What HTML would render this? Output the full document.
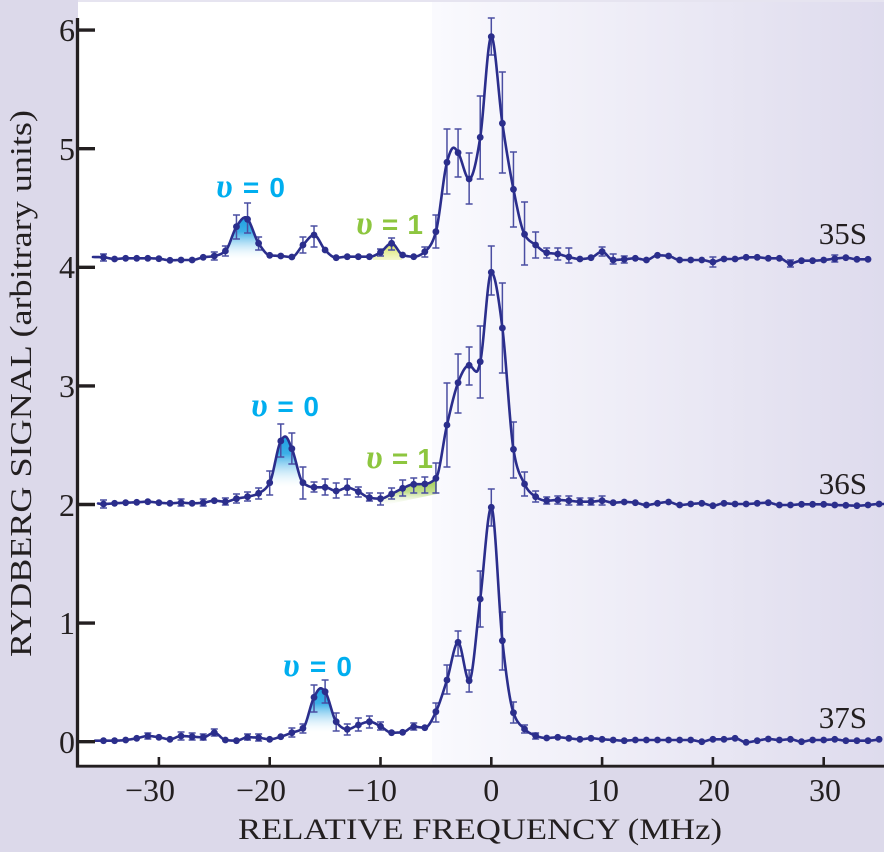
<!DOCTYPE html>
<html><head><meta charset="utf-8">
<style>
html,body{margin:0;padding:0;background:#dcd9ea;width:884px;height:852px;overflow:hidden;}
svg{display:block;}
</style></head>
<body>
<svg id="c" width="884" height="852" viewBox="0 0 884 852" xmlns="http://www.w3.org/2000/svg">
<defs>
<linearGradient id="bgr" gradientUnits="userSpaceOnUse" x1="432" y1="0" x2="884" y2="0">
<stop offset="0" stop-color="#fafafe"/><stop offset="1" stop-color="#dedbed"/>
</linearGradient>
<linearGradient id="cy35" gradientUnits="userSpaceOnUse" x1="0" y1="217" x2="0" y2="259">
<stop offset="0" stop-color="#1c9fe0"/><stop offset="0.35" stop-color="#3dafe7"/><stop offset="1" stop-color="#ffffff" stop-opacity="0.2"/>
</linearGradient>
<linearGradient id="cy36" gradientUnits="userSpaceOnUse" x1="0" y1="436" x2="0" y2="487">
<stop offset="0" stop-color="#1c9fe0"/><stop offset="0.35" stop-color="#3dafe7"/><stop offset="1" stop-color="#ffffff" stop-opacity="0.2"/>
</linearGradient>
<linearGradient id="cy37" gradientUnits="userSpaceOnUse" x1="0" y1="688" x2="0" y2="732">
<stop offset="0" stop-color="#1c9fe0"/><stop offset="0.35" stop-color="#3dafe7"/><stop offset="1" stop-color="#ffffff" stop-opacity="0.2"/>
</linearGradient>
<linearGradient id="yg35" gradientUnits="userSpaceOnUse" x1="0" y1="244" x2="0" y2="260">
<stop offset="0" stop-color="#d4e15c"/><stop offset="1" stop-color="#eef3b8" stop-opacity="0.7"/>
</linearGradient>
<linearGradient id="gr36" gradientUnits="userSpaceOnUse" x1="0" y1="478" x2="0" y2="506">
<stop offset="0" stop-color="#9cc94e"/><stop offset="0.5" stop-color="#c3df8e"/><stop offset="1" stop-color="#ffffff" stop-opacity="0.1"/>
</linearGradient>
</defs>

<!-- backgrounds -->
<rect x="0" y="0" width="884" height="852" fill="#dcd9ea"/>
<rect x="78" y="0" width="806" height="766" fill="#ffffff"/>
<rect x="432" y="0" width="452" height="766" fill="url(#bgr)"/>
<rect x="78" y="0" width="806" height="2" fill="#e6e4f0"/>

<g id="fills"></g>
<g id="errs" stroke="#4a4ea2" stroke-width="1.5" fill="none"></g>
<g id="curves" fill="none" stroke="#2b2e8c" stroke-width="2.6" stroke-linejoin="round" stroke-linecap="round"></g>
<g id="marks" fill="#2b2e8c"></g>

<!-- axes -->
<g stroke="#231f20" fill="none">
<line x1="77.5" y1="18" x2="77.5" y2="767.5" stroke-width="3.3"/>
<line x1="76" y1="766.2" x2="884" y2="766.2" stroke-width="2.8"/>
<g stroke-width="3.4">
<line x1="77" y1="741.7" x2="95" y2="741.7"/>
<line x1="77" y1="623.1" x2="95" y2="623.1"/>
<line x1="77" y1="504.5" x2="95" y2="504.5"/>
<line x1="77" y1="385.9" x2="95" y2="385.9"/>
<line x1="77" y1="267.3" x2="95" y2="267.3"/>
<line x1="77" y1="148.7" x2="95" y2="148.7"/>
<line x1="77" y1="30.1" x2="95" y2="30.1"/>
</g>
<g stroke-width="2.6">
<line x1="158.9" y1="757" x2="158.9" y2="766"/>
<line x1="269.7" y1="757" x2="269.7" y2="766"/>
<line x1="380.5" y1="757" x2="380.5" y2="766"/>
<line x1="491.3" y1="757" x2="491.3" y2="766"/>
<line x1="602.1" y1="757" x2="602.1" y2="766"/>
<line x1="712.9" y1="757" x2="712.9" y2="766"/>
<line x1="823.7" y1="757" x2="823.7" y2="766"/>
</g>
</g>

<!-- tick labels -->
<g font-family="'Liberation Serif', serif" font-size="32" fill="#231f20" text-anchor="end">
<text x="75" y="753">0</text>
<text x="75" y="634">1</text>
<text x="75" y="516">2</text>
<text x="75" y="397">3</text>
<text x="75" y="278">4</text>
<text x="75" y="160">5</text>
<text x="75" y="41">6</text>
</g>
<g font-family="'Liberation Serif', serif" font-size="32" fill="#231f20" text-anchor="end">
<text x="175" y="801">−30</text>
<text x="286" y="801">−20</text>
<text x="397" y="801">−10</text>
<text x="499.3" y="801">0</text>
<text x="619" y="801">10</text>
<text x="730" y="801">20</text>
<text x="841" y="801">30</text>
</g>

<!-- axis titles -->
<text x="238" y="839" font-family="'Liberation Serif', serif" font-size="30" fill="#231f20" textLength="484" lengthAdjust="spacingAndGlyphs">RELATIVE FREQUENCY (MHz)</text>
<text transform="translate(31,657) rotate(-90)" x="0" y="0" font-family="'Liberation Serif', serif" font-size="31" fill="#231f20" textLength="547" lengthAdjust="spacingAndGlyphs">RYDBERG SIGNAL (arbitrary units)</text>

<!-- series labels -->
<g font-family="'Liberation Serif', serif" font-size="31" fill="#231f20" text-anchor="end">
<text x="867" y="244">35S</text>
<text x="867" y="494">36S</text>
<text x="867" y="728">37S</text>
</g>

<!-- peak labels -->
<g font-weight="bold">
<text x="216" y="197" fill="#00aeef" font-size="28" textLength="69" lengthAdjust="spacing"><tspan font-family="'Liberation Serif', serif" font-style="italic" font-size="34">υ</tspan><tspan font-family="'Liberation Sans', sans-serif"> = 0</tspan></text>
<text x="251" y="416" fill="#00aeef" font-size="28" textLength="68" lengthAdjust="spacing"><tspan font-family="'Liberation Serif', serif" font-style="italic" font-size="34">υ</tspan><tspan font-family="'Liberation Sans', sans-serif"> = 0</tspan></text>
<text x="283" y="676" fill="#00aeef" font-size="28" textLength="69" lengthAdjust="spacing"><tspan font-family="'Liberation Serif', serif" font-style="italic" font-size="34">υ</tspan><tspan font-family="'Liberation Sans', sans-serif"> = 0</tspan></text>
<text x="356" y="234" fill="#8dc63f" font-size="28" textLength="67" lengthAdjust="spacing"><tspan font-family="'Liberation Serif', serif" font-style="italic" font-size="34">υ</tspan><tspan font-family="'Liberation Sans', sans-serif"> = 1</tspan></text>
<text x="366" y="468" fill="#8dc63f" font-size="28" textLength="67" lengthAdjust="spacing"><tspan font-family="'Liberation Serif', serif" font-style="italic" font-size="34">υ</tspan><tspan font-family="'Liberation Sans', sans-serif"> = 1</tspan></text>
</g>
</svg>

<script>
(function(){
const NS="http://www.w3.org/2000/svg";
const X=f=>491.3+11.08*f;
function mk(tag,attrs,parent){const e=document.createElementNS(NS,tag);for(const k in attrs)e.setAttribute(k,attrs[k]);parent.appendChild(e);return e;}
function interp(knots){
  knots.sort((a,b)=>a[0]-b[0]);
  const n=knots.length,xs=knots.map(k=>k[0]),ys=knots.map(k=>k[1]);
  const d=[];for(let i=0;i<n-1;i++)d.push((ys[i+1]-ys[i])/(xs[i+1]-xs[i]));
  const m=new Array(n).fill(0);
  for(let i=1;i<n-1;i++){const h0=xs[i]-xs[i-1],h1=xs[i+1]-xs[i],s0=d[i-1],s1=d[i];const p=(s0*h1+s1*h0)/(h0+h1);m[i]=((Math.sign(s0)+Math.sign(s1))*Math.min(Math.abs(s0),Math.abs(s1),0.5*Math.abs(p)))||0;}
  m[0]=(3*d[0]-m[1])/2; m[n-1]=(3*d[n-2]-m[n-2])/2;
  const f=function(x){
    let i=0;while(i<n-2&&x>xs[i+1])i++;
    const h=xs[i+1]-xs[i];let t=(x-xs[i])/h;if(t<0)t=0;if(t>1)t=1;
    const t2=t*t,t3=t2*t;
    return (2*t3-3*t2+1)*ys[i]+(t3-2*t2+t)*h*m[i]+(-2*t3+3*t2)*ys[i+1]+(t3-t2)*h*m[i+1];
  };
  f.x0=xs[0];f.x1=xs[n-1];return f;
}
function sample(fn,a,b){const pts=[];for(let x=a;x<b;x+=0.5)pts.push([x,fn(x)]);pts.push([b,fn(b)]);return pts;}
function ptsToPath(p){return "M"+p.map(q=>q[0].toFixed(2)+","+q[1].toFixed(2)).join("L");}

const S={
 s35:{f0:-35,ys:[257.3,259,258.3,258.3,258.3,258.7,260.3,260,260,257.3,
  256,251,226.7,219.3,243.3,255.3,256,257,245,235,
  250,257.7,256.7,256.7,256.7,252.3,243.3,255,256.7,251.7,
  231.7,162.3,152.7,179,137.3,36.7,123.3,189.3,234.3,245,
  252.7,254,257,259,257.7,251.7,260,259.3,258.3,260,
  255.3,256,260,260,260,262,259,259,257.3,257.3,
  258.3,258.3,263.3,260.7,260.7,260,258.7,257.7,259.3,259.3],
  extra:[[93,257],[X(-22.2),217.3],[X(-3.4),147.7]],
  skip:[-22],
  errs:[[-35,254,261],[-25,252,260],[-24,246,256],[-23,215,239],[-22,203,233],[-21,237,250],[-17,237,253],[-16,226,247],[-10,249,256],[-9,238,250],[-6,247,257],[-5,215,248],[-4,129,194],[-3,129,177],[-2,153,204],[-1,96,179],[0,18,55],[1,72,173],[2,152,227],[3,202,265],[4,232,258],[5,248,258],[6,248,260],[7,248,263],[10,247,256],[11,254,264],[12,256,263],[20,257,267],[27,260,267],[31,255,262]]},
 s36:{f0:-35,ys:[504,503.3,502.7,502.3,501.7,502.7,503.3,502.7,503.3,502.7,
  500.7,501.7,498.7,496.7,493.3,482.7,441,448.7,482.7,487.3,
  487.3,491,487.7,491.7,497.7,498.7,494,488.3,484.3,484,
  478.3,425,382.7,365.3,361.7,272.3,328,449.3,484,496.7,
  500.7,500,500.7,501.7,501.7,500.7,502.7,502,502.7,505,
  503.3,502,505,504,503.3,505.7,503.3,504,504,503.3,
  502.7,505,505,504.3,504.3,504.3,505,505.3,505.7,505,504],
  extra:[[98,503.5],[X(-18.6),436.5],[X(-1.32),371.7],[884,504]],
  skip:[],
  errs:[[-35,500,508],[-28,499,506],[-26,499,506],[-24,498,505],[-23,494,503],[-22,492,501],[-21,488,499],[-20,471,495],[-19,424,457],[-18,433,464],[-17,467,499],[-16,482,492],[-15,479,495],[-14,483,498],[-13,479,495],[-12,487,497],[-11,493,501],[-10,493,505],[-9,488,499],[-8,480,496],[-7,478,493],[-6,477,493],[-5,463,493],[-4,383,467],[-3,354,413],[-2,347,385],[-1,326,398],[0,246,295],[1,283,373],[2,422,478],[3,472,496],[4,491,502],[5,497,504],[6,496,504],[7,496,505],[8,498,505],[9,498,505],[10,496,505]]},
 s37:{f0:-35,ys:[740.7,740.7,740,738.3,736,737.3,739.3,736,736.7,737.3,
  732.7,740,740.7,737.3,737.7,739.3,736.7,732.7,728.3,697.3,
  691.7,721.7,729.3,725,721.7,726.3,732.7,732.3,726.7,727.7,
  711.7,680,642.3,680.7,599,507.3,640.7,712.7,729,735.7,
  738,737.3,738.3,739.3,738.3,739.3,740,740.7,740,740,
  740,740,740,740,741.7,739.3,739.3,738.3,742.3,740.7,
  739,740,739.3,741.7,740,740,739.3,740.7,740.7,740.7,739.3],
  extra:[[95,740.7],[X(-15.4),688.3]],
  skip:[],
  errs:[[-31,733,739],[-28,732,740],[-27,733,740],[-26,734,740],[-25,729,736],[-22,734,740],[-21,734,741],[-18,728,737],[-17,724,733],[-16,685,712],[-15,680,703],[-14,713,731],[-13,724,735],[-12,718,731],[-11,716,728],[-10,722,730],[-7,723,730],[-5,703,722],[-4,665,694],[-3,631,656],[-2,670,692],[-1,571,627],[0,489,526],[1,612,670],[2,702,723],[3,725,733],[4,733,739]]}
};

const gF=document.getElementById("fills"),gE=document.getElementById("errs"),gC=document.getElementById("curves"),gM=document.getElementById("marks");
const fns={};
for(const key in S){
  const s=S[key];
  const knots=[];
  s.ys.forEach((y,i)=>{const f=s.f0+i;if(s.skip.indexOf(f)<0)knots.push([X(f),y]);});
  s.extra.forEach(k=>knots.push(k));
  const fn=interp(knots);fns[key]=fn;
  mk("path",{d:ptsToPath(sample(fn,fn.x0,fn.x1))},gC);
  s.ys.forEach((y,i)=>{const f=s.f0+i;mk("circle",{cx:X(f).toFixed(2),cy:y,r:3.4},gM);});
  s.errs.forEach(e=>{const x=X(e[0]);mk("path",{d:`M${x},${e[1]}V${e[2]}M${x-3.5},${e[1]}H${x+3.5}M${x-3.5},${e[2]}H${x+3.5}`},gE);});
}
function fillReg(fn,a,b,base,fillId,baseA){
  const p=sample(fn,a,b);
  let d=ptsToPath(p)+`L${b},${base}L${a},${baseA===undefined?base:baseA}Z`;
  mk("path",{d:d,fill:`url(#${fillId})`,stroke:"none"},gF);
}
fillReg(fns.s35,227,263,259,"cy35");
fillReg(fns.s36,270,300,487,"cy36");
fillReg(fns.s37,305,335,732,"cy37");
fillReg(fns.s35,373,402,260,"yg35");
fillReg(fns.s36,380,437,494,"gr36",506);
})();
</script>
</body></html>
